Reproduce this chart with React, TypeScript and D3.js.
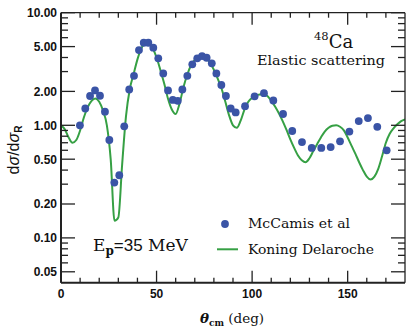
import React from "react";
import * as d3 from "d3";

const dataAngles = [9.9, 12.7, 15.2, 17.8, 20.4, 23.0, 25.3, 27.9, 30.5, 33.1, 35.7, 38.2, 40.8, 43.3, 45.7, 48.3, 50.9, 53.5, 56.0, 58.5, 61.1, 63.5, 66.1, 68.7, 71.3, 73.8, 76.2, 78.9, 81.3, 83.9, 86.3, 88.8, 91.4, 96.3, 101.3, 106.2, 111.1, 116.2, 121.0, 126.1, 131.2, 136.2, 141.1, 146.0, 150.9, 155.8, 160.6, 165.5, 170.4];
const dataValues = [1.0, 1.41, 1.82, 2.04, 1.83, 1.32, 0.74, 0.31, 0.36, 0.98, 2.08, 2.75, 4.66, 5.41, 5.41, 4.89, 3.93, 2.89, 2.04, 1.68, 1.65, 2.08, 2.75, 3.48, 3.93, 4.12, 3.98, 3.55, 2.89, 2.28, 1.82, 1.41, 1.3, 1.48, 1.81, 1.93, 1.66, 1.26, 0.89, 0.71, 0.63, 0.63, 0.64, 0.72, 0.88, 1.09, 1.16, 0.97, 0.6];

const curveAngles = [0, 2, 4, 6, 8, 10, 12, 14, 16, 18, 20, 22, 24, 26, 28, 30, 32, 34, 36, 38, 40, 42, 44, 46, 48, 50, 52, 54, 56, 58, 60, 62, 64, 66, 68, 70, 72, 74, 76, 78, 80, 82, 84, 86, 88, 90, 92, 94, 96, 98, 100, 102, 104, 106, 108, 110, 112, 114, 116, 118, 120, 122, 124, 126, 128, 130, 132, 134, 136, 138, 140, 142, 144, 146, 148, 150, 152, 154, 156, 158, 160, 162, 164, 166, 168, 170, 172, 174, 176, 178, 180];
const curveValues = [1.0, 0.92, 0.78, 0.7, 0.74, 0.9, 1.18, 1.45, 1.65, 1.73, 1.62, 1.35, 1.0, 0.5, 0.142, 0.152, 0.45, 1.2, 2.1, 2.85, 3.85, 4.8, 5.35, 5.3, 4.8, 4.0, 3.1, 2.35, 1.72, 1.38, 1.26, 1.55, 2.15, 2.8, 3.4, 3.8, 4.02, 4.06, 3.9, 3.6, 3.1, 2.6, 2.12, 1.62, 1.22, 1.0, 0.95, 1.1, 1.38, 1.62, 1.76, 1.84, 1.88, 1.89, 1.82, 1.65, 1.47, 1.28, 1.09, 0.91, 0.75, 0.63, 0.54, 0.49, 0.47, 0.51, 0.59, 0.68, 0.78, 0.88, 0.95, 0.99, 1.0, 0.97, 0.9, 0.78, 0.66, 0.56, 0.47, 0.4, 0.35, 0.33, 0.35, 0.41, 0.53, 0.7, 0.84, 0.94, 1.02, 1.09, 1.13];

const xMajorTicks = [0, 50, 100, 150];
const xMinorTicks = [10, 20, 30, 40, 60, 70, 80, 90, 110, 120, 130, 140, 160, 170];
const yMajorTicks = [0.05, 0.1, 0.2, 0.5, 1, 2, 5, 10];
const yTickLabels = ["0.05", "0.10", "0.20", "0.50", "1.00", "2.00", "5.00", "10.00"];
const yMinorTicks = [0.06, 0.07, 0.08, 0.09, 0.3, 0.4, 0.6, 0.7, 0.8, 0.9, 3, 4, 6, 7, 8, 9];

const BLUE = "#3a54a6";
const GREEN = "#36a044";
const SERIF = "'DejaVu Serif', serif";
const SANS = "'Liberation Sans', Arial, sans-serif";

export default function App() {
  const W = 406, H = 327;
  const left = 61, right = 405, top = 12.7, bottom = 282.7;
  const x = d3.scaleLinear().domain([0, 180]).range([left, right]);
  const y = d3.scaleLog().domain([0.04, 10]).range([bottom, top]);
  const line = d3
    .line<number>()
    .x((_, i) => x(curveAngles[i]))
    .y((v) => y(v))
    .curve(d3.curveMonotoneX);
  const pathD = line(curveValues) || "";

  return (
    <svg width={W} height={H} style={{ position: "absolute", left: 0, top: 0 }}>
      <rect width={W} height={H} fill="#fff" />
      <defs>
        <clipPath id="plot">
          <rect x={left} y={top} width={right - left} height={bottom - top} />
        </clipPath>
      </defs>
      <path d={pathD} fill="none" stroke={GREEN} strokeWidth={2} clipPath="url(#plot)" />
      {dataValues.map((v, i) => (
        <circle key={i} cx={x(dataAngles[i])} cy={y(v)} r={3.9} fill={BLUE} />
      ))}
      <g stroke="#222" fill="none">
        <line x1={left} x2={right} y1={bottom} y2={bottom} strokeWidth={2} />
        <line x1={left} x2={left} y1={top} y2={bottom} strokeWidth={2} />
        <line x1={left} x2={right} y1={top} y2={top} strokeWidth={1.3} />
        <line x1={right} x2={right} y1={top} y2={bottom} strokeWidth={1.3} />
      </g>
      <g stroke="#222" strokeWidth={1.3}>
        {xMajorTicks.map((t) => (
          <g key={"xM" + t}>
            <line x1={x(t)} x2={x(t)} y1={bottom} y2={bottom - 12} />
            <line x1={x(t)} x2={x(t)} y1={top} y2={top + 12} />
          </g>
        ))}
        {xMinorTicks.map((t) => (
          <g key={"xm" + t}>
            <line x1={x(t)} x2={x(t)} y1={bottom} y2={bottom - 5} />
            <line x1={x(t)} x2={x(t)} y1={top} y2={top + 5} />
          </g>
        ))}
        {yMajorTicks.map((t) => (
          <g key={"yM" + t}>
            <line x1={left} x2={left + 14} y1={y(t)} y2={y(t)} />
            <line x1={right} x2={right - 14} y1={y(t)} y2={y(t)} />
          </g>
        ))}
        {yMinorTicks.map((t) => (
          <g key={"ym" + t}>
            <line x1={left} x2={left + 7} y1={y(t)} y2={y(t)} />
            <line x1={right} x2={right - 7} y1={y(t)} y2={y(t)} />
          </g>
        ))}
      </g>
      <g fontFamily={SANS} fontSize={12} fontWeight={700} fill="#111">
        {xMajorTicks.map((t) => (
          <text key={"xl" + t} x={x(t)} y={298} textAnchor="middle">
            {t}
          </text>
        ))}
        {yMajorTicks.map((t, i) => (
          <text key={"yl" + t} x={57} y={y(t)} dy="0.36em" textAnchor="end">
            {yTickLabels[i]}
          </text>
        ))}
      </g>
      <text x={232} y={323} textAnchor="middle" fontFamily={SERIF} fontSize={13.5} fill="#111">
        <tspan fontStyle="italic" fontWeight={700}>θ</tspan>
        <tspan fontSize={9} fontWeight={700} dy={3}>cm</tspan>
        <tspan dy={-3}> (deg)</tspan>
      </text>
      <text
        transform="translate(19,150) rotate(-90)"
        textAnchor="middle"
        fontFamily={SANS}
        fontSize={16}
        fill="#111"
      >
        <tspan>d</tspan>
        <tspan fontStyle="italic">σ</tspan>
        <tspan>/d</tspan>
        <tspan fontStyle="italic">σ</tspan>
        <tspan fontSize={10} fontWeight={700} dy={3}>R</tspan>
      </text>
      <text x={314} y={48} fontFamily={SERIF} fill="#111">
        <tspan fontSize={11.5} dy={-8}>48</tspan>
        <tspan fontSize={18} dy={8}>Ca</tspan>
      </text>
      <text x={257} y={65} fontFamily={SERIF} fontSize={13.5} fill="#111" textLength={128} lengthAdjust="spacingAndGlyphs">
        Elastic scattering
      </text>
      <text x={93} y={251} fontFamily={SERIF} fontSize={17} fill="#111">
        <tspan>E</tspan>
        <tspan fontSize={12} dy={4} fontWeight={700}>p</tspan>
        <tspan dy={-4} fontFamily={SANS}>=35</tspan>
        <tspan> MeV</tspan>
      </text>
      <circle cx={225} cy={224} r={3.9} fill={BLUE} />
      <text x={248} y={228} fontFamily={SERIF} fontSize={13.5} fill="#111" textLength={102} lengthAdjust="spacingAndGlyphs">
        McCamis et al
      </text>
      <line x1={217} x2={238} y1={249.3} y2={249.3} stroke={GREEN} strokeWidth={2} />
      <text x={248} y={254} fontFamily={SERIF} fontSize={13.5} fill="#111" textLength={126} lengthAdjust="spacingAndGlyphs">
        Koning Delaroche
      </text>
    </svg>
  );
}
